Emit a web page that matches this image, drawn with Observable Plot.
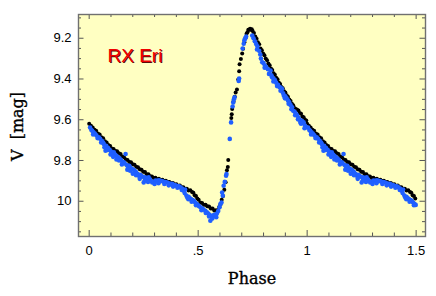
<!DOCTYPE html>
<html>
<head>
<meta charset="utf-8">
<script src="https://cdn.jsdelivr.net/npm/d3@7"></script>
<script src="https://cdn.jsdelivr.net/npm/@observablehq/plot@0.6"></script>
<style>
  html, body { margin: 0; padding: 0; background: #ffffff; }
</style>
</head>
<body>
<div id="chart"></div>
<script>
// ---- data (phase 0..1; phases <= 0.5 are repeated at phase + 1) ----
const blackPhase = [0.000,0.008,0.016,0.024,0.032,0.040,0.048,0.056,0.064,0.072,0.080,0.088,0.096,0.104,0.112,0.120,0.128,0.136,0.144,0.152,0.160,0.168,0.176,0.184,0.192,0.200,0.208,0.216,0.224,0.232,0.240,0.248,0.256,0.264,0.272,0.280,0.288,0.296,0.304,0.312,0.320,0.328,0.336,0.344,0.352,0.360,0.368,0.376,0.384,0.392,0.400,0.408,0.416,0.424,0.432,0.440,0.448,0.456,0.464,0.472,0.478,0.484,0.490,0.496,0.502,0.510,0.518,0.526,0.534,0.542,0.550,0.558,0.566,0.574,0.582,0.590,0.596,0.602,0.608,0.614,0.620,0.626,0.632,0.636,0.638,0.652,0.654,0.656,0.662,0.668,0.672,0.678,0.684,0.688,0.690,0.696,0.702,0.706,0.712,0.718,0.722,0.726,0.730,0.734,0.738,0.742,0.746,0.750,0.756,0.762,0.768,0.774,0.780,0.786,0.792,0.798,0.804,0.810,0.816,0.822,0.828,0.834,0.840,0.846,0.852,0.858,0.864,0.870,0.876,0.882,0.888,0.894,0.900,0.906,0.912,0.918,0.924,0.930,0.936,0.942,0.948,0.954,0.960,0.966,0.972,0.978,0.984,0.990,0.996];
const blackMag   = [9.620,9.630,9.638,9.649,9.654,9.667,9.672,9.686,9.691,9.705,9.712,9.724,9.729,9.741,9.744,9.753,9.755,9.764,9.768,9.781,9.784,9.795,9.797,9.807,9.809,9.819,9.821,9.831,9.833,9.843,9.846,9.855,9.857,9.867,9.868,9.877,9.878,9.886,9.885,9.892,9.890,9.897,9.895,9.901,9.900,9.906,9.905,9.912,9.911,9.918,9.917,9.924,9.923,9.931,9.931,9.939,9.939,9.947,9.946,9.954,9.958,9.970,9.974,9.987,9.993,10.006,10.008,10.017,10.017,10.025,10.026,10.035,10.036,10.045,10.044,10.046,10.030,10.017,9.993,9.974,9.943,9.907,9.848,9.832,9.798,9.592,9.573,9.547,9.510,9.487,9.466,9.452,9.403,9.362,9.328,9.302,9.275,9.252,9.220,9.197,9.178,9.170,9.158,9.158,9.154,9.158,9.156,9.165,9.174,9.192,9.202,9.220,9.230,9.250,9.259,9.275,9.283,9.299,9.308,9.324,9.333,9.349,9.356,9.372,9.379,9.394,9.401,9.417,9.424,9.439,9.445,9.460,9.466,9.480,9.487,9.501,9.508,9.522,9.529,9.542,9.547,9.551,9.555,9.567,9.571,9.584,9.588,9.600,9.604,9.616];

const bluePhase = [0.004,0.010,0.014,0.020,0.026,0.033,0.044,0.050,0.058,0.064,0.067,0.075,0.078,0.086,0.094,0.100,0.106,0.113,0.120,0.126,0.132,0.140,0.146,0.152,0.159,0.163,0.167,0.172,0.178,0.184,0.190,0.197,0.204,0.210,0.216,0.222,0.228,0.234,0.240,0.246,0.250,0.256,0.262,0.268,0.273,0.280,0.289,0.296,0.304,0.312,0.320,0.327,0.334,0.342,0.350,0.358,0.366,0.373,0.380,0.388,0.396,0.404,0.412,0.419,0.426,0.434,0.440,0.446,0.450,0.456,0.462,0.468,0.474,0.480,0.486,0.492,0.498,0.504,0.511,0.518,0.524,0.533,0.540,0.546,0.552,0.556,0.562,0.568,0.574,0.579,0.586,0.592,0.598,0.602,0.607,0.610,0.613,0.617,0.622,0.628,0.630,0.645,0.651,0.658,0.661,0.664,0.667,0.686,0.688,0.704,0.709,0.712,0.716,0.720,0.748,0.754,0.760,0.766,0.772,0.780,0.788,0.794,0.800,0.806,0.812,0.820,0.832,0.836,0.839,0.846,0.852,0.858,0.866,0.874,0.880,0.885,0.890,0.893,0.900,0.906,0.912,0.918,0.924,0.931,0.936,0.942,0.948,0.954,0.960,0.966,0.969,0.976,0.984,0.990,0.996,
  0.018,0.038,0.055,0.070,0.083,0.098,0.110,0.125,0.137,0.150,0.175,0.188,0.200,0.215,0.232,0.255,0.270,0.300,0.318,0.345,0.365,0.385,0.405,0.425,0.438,0.455,0.470,0.490,0.515,0.535,0.550,0.565,0.583,0.770,0.785,0.805,0.825,0.845,0.862,0.878,0.898,0.915,0.928,0.945,0.958,0.972,0.988];
const blueMag   = [9.638,9.650,9.654,9.662,9.668,9.676,9.686,9.693,9.703,9.712,9.719,9.752,9.728,9.738,9.748,9.756,9.768,9.760,9.772,9.778,9.784,9.790,9.798,9.806,9.809,9.815,9.768,9.822,9.830,9.826,9.836,9.842,9.846,9.852,9.858,9.866,9.875,9.870,9.876,9.880,9.908,9.882,9.886,9.890,9.883,9.894,9.908,9.905,9.899,9.900,9.897,9.900,9.901,9.904,9.906,9.908,9.912,9.916,9.914,9.919,9.922,9.925,9.927,9.932,9.938,9.948,9.942,9.972,9.981,9.978,9.985,9.990,9.994,9.998,10.006,10.012,10.018,10.024,10.030,10.036,10.040,10.047,10.054,10.060,10.066,10.096,10.075,10.070,10.066,10.071,10.060,10.048,10.030,10.014,10.006,9.957,9.973,9.924,9.905,9.875,9.866,9.694,9.613,9.535,9.515,9.500,9.490,9.410,9.398,9.250,9.227,9.210,9.200,9.192,9.187,9.200,9.215,9.228,9.240,9.262,9.300,9.318,9.322,9.334,9.342,9.352,9.359,9.382,9.392,9.398,9.405,9.418,9.428,9.440,9.445,9.449,9.470,9.482,9.485,9.495,9.505,9.515,9.528,9.539,9.556,9.560,9.570,9.578,9.590,9.600,9.613,9.605,9.613,9.628,9.636,
  9.672,9.690,9.712,9.735,9.748,9.770,9.782,9.795,9.800,9.820,9.845,9.850,9.865,9.872,9.890,9.898,9.905,9.915,9.912,9.915,9.922,9.928,9.934,9.945,9.960,9.990,10.002,10.020,10.044,10.058,10.075,10.085,10.078,9.255,9.280,9.345,9.375,9.412,9.435,9.458,9.495,9.522,9.548,9.578,9.598,9.620,9.642];

const xMajorTicks = [0, 0.5, 1, 1.5];
const xTickLabels = ["0", ".5", "1", "1.5"];
const xMinorTicks = [0.1, 0.2, 0.3, 0.4, 0.6, 0.7, 0.8, 0.9, 1.1, 1.2, 1.3, 1.4];
const yMajorTicks = [9.2, 9.4, 9.6, 9.8, 10];
const yTickLabels = ["9.2", "9.4", "9.6", "9.8", "10"];
const yMinorTicks = [9.1, 9.15, 9.25, 9.3, 9.35, 9.45, 9.5, 9.55, 9.65, 9.7, 9.75, 9.85, 9.9, 9.95, 10.05, 10.1, 10.15];

const starName = "RX Eri";
const xTitle = "Phase";
const yTitle = "V\u00a0\u00a0[mag]";

// ---- build tables ----
function folded(phases, mags) {
  const out = [];
  phases.forEach((p, i) => {
    out.push({phase: p, mag: mags[i]});
    if (p <= 0.5) out.push({phase: p + 1, mag: mags[i]});
  });
  return out;
}
const black = folded(blackPhase, blackMag);
const blue = folded(bluePhase, blueMag);

const W = 436, H = 296, mL = 78, mR = 11, mT = 14, mB = 60;
const frameH = H - mT - mB, frameW = W - mL - mR;
const tickColor = "#555";

const chart = Plot.plot({
  width: W, height: H,
  marginLeft: mL, marginRight: mR, marginTop: mT, marginBottom: mB,
  style: {background: "#ffffff", fontFamily: "'Liberation Sans', Arial, Helvetica, sans-serif", fontSize: "13px", color: "#000"},
  x: {domain: [-0.049, 1.543]},
  y: {domain: [10.173, 9.0835]},
  marks: [
    Plot.frame({fill: "#ffffc2"}),
    Plot.dot(black, {x: "phase", y: "mag", r: 2, fill: "#000000", stroke: "none"}),
    Plot.dot(blue, {x: "phase", y: "mag", r: 2.3, fill: "#1f5fff", stroke: "none"}),
    // inward ticks
    Plot.tickX(xMajorTicks, {x: d => d, insetTop: frameH - 6, stroke: tickColor}),
    Plot.tickX(xMinorTicks, {x: d => d, insetTop: frameH - 3.5, stroke: tickColor}),
    Plot.tickX(xMajorTicks, {x: d => d, insetBottom: frameH - 5, stroke: tickColor}),
    Plot.tickX(xMinorTicks, {x: d => d, insetBottom: frameH - 3, stroke: tickColor}),
    Plot.tickY(yMajorTicks, {y: d => d, insetRight: frameW - 5.5, stroke: tickColor}),
    Plot.tickY(yMinorTicks, {y: d => d, insetRight: frameW - 3, stroke: tickColor}),
    Plot.tickY(yMajorTicks, {y: d => d, insetLeft: frameW - 5.5, stroke: tickColor}),
    Plot.tickY(yMinorTicks, {y: d => d, insetLeft: frameW - 3, stroke: tickColor}),
    Plot.axisX(xMajorTicks, {tickSize: 0, tickPadding: 9, tickFormat: (d, i) => xTickLabels[xMajorTicks.indexOf(d)], label: null, fontSize: 13}),
    Plot.axisY(yMajorTicks, {tickSize: 0, tickPadding: 7, tickFormat: d => yTickLabels[yMajorTicks.indexOf(d)], label: null, fontSize: 13}),
    Plot.frame({stroke: "#707070", strokeWidth: 1.4}),
    // star name with shadow
    Plot.text([starName], {text: d => d, frameAnchor: "top-left", dx: 30, dy: 48, lineAnchor: "bottom", textAnchor: "start", fill: "#5a0a0a", fontSize: 19, fontFamily: "'Liberation Sans', Arial, sans-serif"}),
    Plot.text([starName], {text: d => d, frameAnchor: "top-left", dx: 29, dy: 47, lineAnchor: "bottom", textAnchor: "start", fill: "#f00000", fontSize: 19, fontFamily: "'Liberation Sans', Arial, sans-serif"}),
    // axis titles
    Plot.text([xTitle], {text: d => d, frameAnchor: "bottom", dy: 47, lineAnchor: "bottom", textAnchor: "middle", fill: "#000", stroke: "#000", strokeWidth: 0.35, fontSize: 16, fontFamily: "'DejaVu Serif', serif"}),
    Plot.text([yTitle], {text: d => d, frameAnchor: "left", dx: -61, dy: 1, rotate: -90, lineAnchor: "middle", textAnchor: "middle", fill: "#000", stroke: "#000", strokeWidth: 0.35, fontSize: 16, fontFamily: "'DejaVu Serif', serif"})
  ]
});
document.getElementById("chart").appendChild(chart);
</script>
</body>
</html>
